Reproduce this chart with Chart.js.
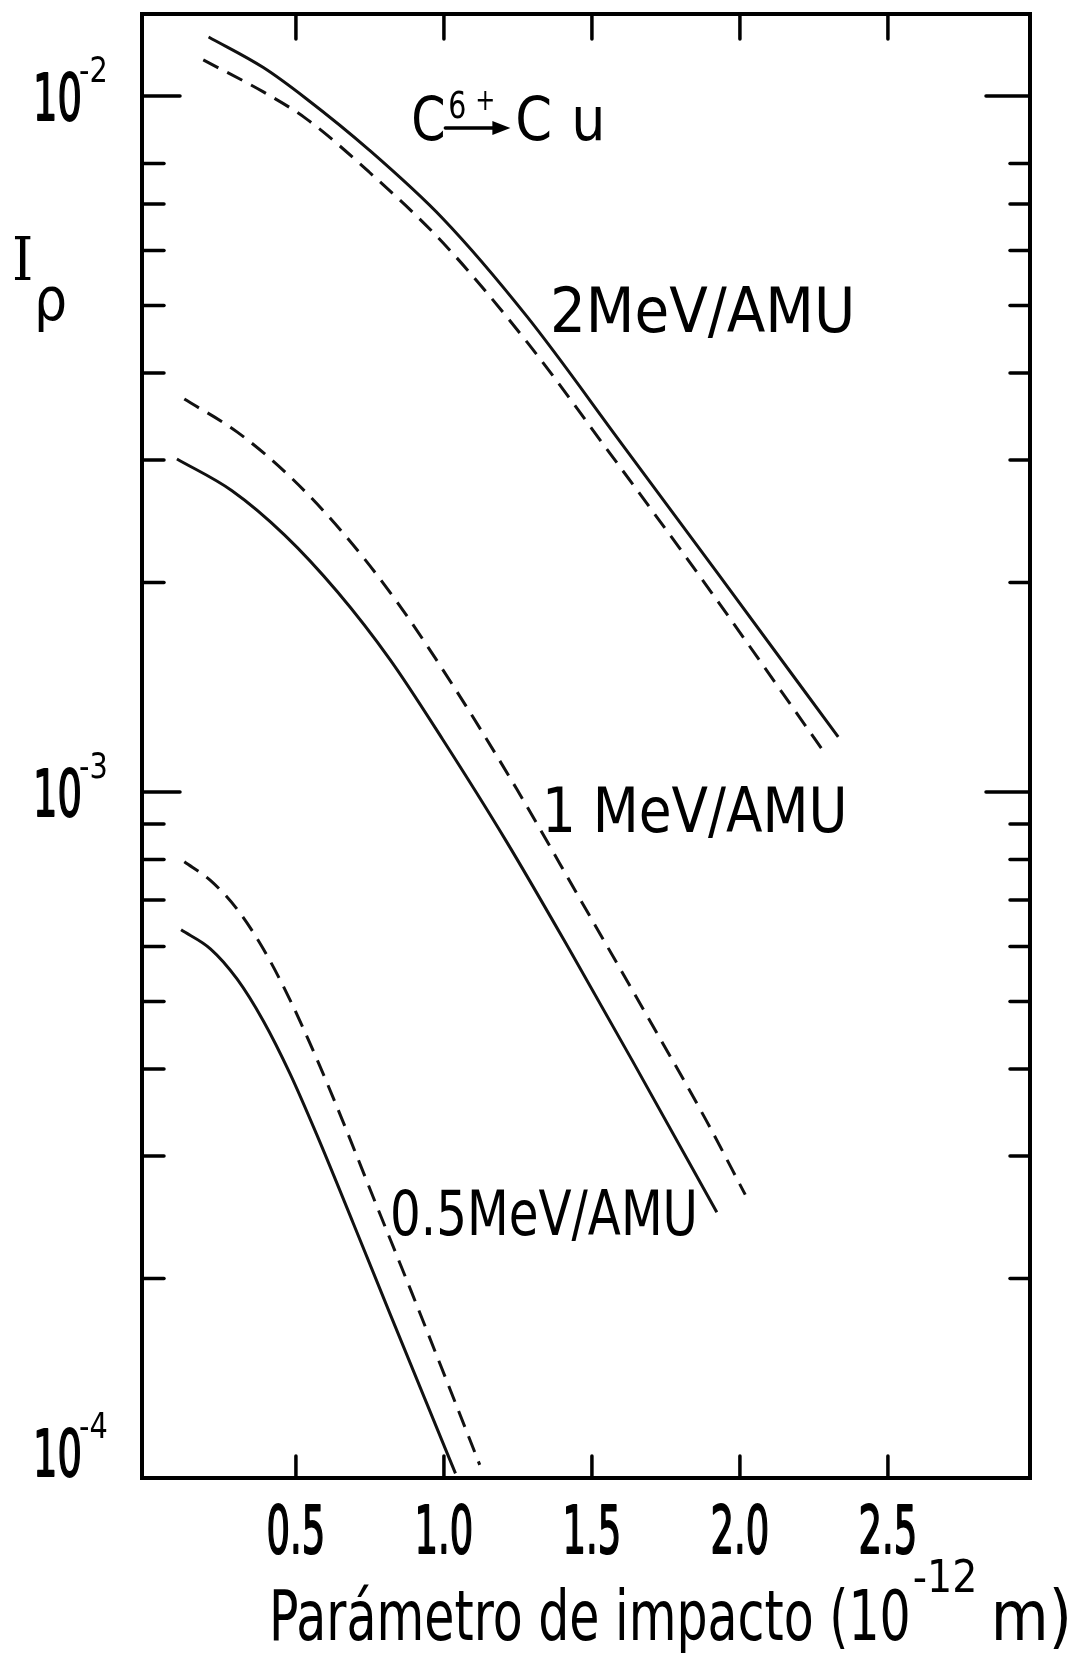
<!DOCTYPE html>
<html>
<head>
<meta charset="utf-8">
<script src="https://cdn.jsdelivr.net/npm/chart.js@4.4.1/dist/chart.umd.min.js"></script>
<style>
  html, body { margin: 0; padding: 0; background: #fff; }
  #wrap { width: 1086px; height: 1653px; }
</style>
</head>
<body>
<div id="wrap"><canvas id="chart"></canvas></div>
<script>
// Parâmetro de impacto (10^-12 m) e I_rho para C6+ -> Cu
const x2Solid = [0.205, 0.39, 0.533, 0.747, 0.996, 1.281, 1.602, 1.922, 2.332];
const y2Solid = [0.01216, 0.01099, 0.00993, 0.00837, 0.00667, 0.00482, 0.00316, 0.00207, 0.0012];
const x2Dash = [0.187, 0.39, 0.533, 0.747, 0.996, 1.281, 1.548, 1.869, 2.279];
const y2Dash = [0.01127, 0.01014, 0.00929, 0.00778, 0.00616, 0.00443, 0.00312, 0.00203, 0.00115];

const x1Solid = [0.098, 0.284, 0.462, 0.64, 0.818, 0.996, 1.21, 1.424, 1.637, 1.922];
const y1Solid = [0.00301, 0.00271, 0.00234, 0.00194, 0.00155, 0.00119, 0.000851, 0.000594, 0.000411, 0.000249];
const x1Dash = [0.123, 0.302, 0.48, 0.658, 0.836, 1.032, 1.246, 1.459, 1.673, 1.887, 2.018];
const y1Dash = [0.00367, 0.00329, 0.00284, 0.00236, 0.00189, 0.00142, 0.00101, 0.000703, 0.000488, 0.000337, 0.000264];

const x05Solid = [0.112, 0.212, 0.301, 0.39, 0.48, 0.569, 0.694, 0.818, 0.943, 1.039];
const y05Solid = [0.000634, 0.000595, 0.000539, 0.000469, 0.000394, 0.000323, 0.00024, 0.000178, 0.000132, 0.000105];
const x05Dash = [0.123, 0.212, 0.301, 0.39, 0.48, 0.569, 0.658, 0.764, 0.889, 1.014, 1.121];
const y05Dash = [0.000794, 0.000746, 0.000679, 0.000595, 0.000503, 0.000415, 0.000337, 0.00026, 0.000192, 0.000141, 0.000108];

// eixos
const xTicks = [0.5, 1.0, 1.5, 2.0, 2.5];
const xTickLabels = ['0.5', '1.0', '1.5', '2.0', '2.5'];
const yMajor = [1e-2, 1e-3, 1e-4];
const yMajorExp = ['-2', '-3', '-4'];
const yMinor = [8e-3, 7e-3, 6e-3, 5e-3, 4e-3, 3e-3, 2e-3,
                9e-4, 8e-4, 7e-4, 6e-4, 5e-4, 4e-4, 3e-4, 2e-4];

const FONTE = '"DejaVu Sans", sans-serif';

function pts(xs, ys) {
  return xs.map((v, i) => ({ x: v, y: ys[i] }));
}

function curva(xs, ys, tracejada) {
  return {
    data: pts(xs, ys),
    showLine: true,
    borderColor: '#111',
    borderWidth: 3,
    borderDash: tracejada ? [17, 10] : [],
    pointRadius: 0,
    fill: false,
    cubicInterpolationMode: 'monotone'
  };
}

// escreve texto com escala horizontal (letra estreita); grosso > 0 engrossa o traço
function texto(ctx, str, px, py, size, sx, align, family, grosso) {
  ctx.save();
  ctx.font = size + 'px ' + (family || FONTE);
  ctx.textAlign = align || 'left';
  ctx.textBaseline = 'alphabetic';
  ctx.translate(px, py);
  ctx.scale(sx, 1);
  ctx.fillText(str, 0, 0);
  if (grosso) {
    ctx.lineWidth = grosso;
    ctx.lineJoin = 'round';
    ctx.strokeText(str, 0, 0);
  }
  const w = ctx.measureText(str).width * sx;
  ctx.restore();
  return w;
}

function linha(ctx, x1, y1, x2, y2) {
  ctx.beginPath();
  ctx.moveTo(x1, y1);
  ctx.lineTo(x2, y2);
  ctx.stroke();
}

// moldura, marcas para dentro, rótulos e anotações
const moldura = {
  id: 'moldura',
  afterDraw(chart) {
    const { ctx, chartArea: a, scales: { x, y } } = chart;
    ctx.save();
    ctx.strokeStyle = '#000';
    ctx.fillStyle = '#000';
    ctx.lineCap = 'round';

    ctx.lineWidth = 4;
    ctx.strokeRect(a.left, a.top, a.right - a.left, a.bottom - a.top);

    ctx.lineWidth = 3.5;
    xTicks.forEach(v => {
      const px = x.getPixelForValue(v);
      linha(ctx, px, a.top, px, a.top + 25);
      linha(ctx, px, a.bottom, px, a.bottom - 22);
    });
    yMajor.forEach(v => {
      const py = y.getPixelForValue(v);
      if (py > a.bottom) return;
      linha(ctx, a.left, py, a.left + 38, py);
      linha(ctx, a.right, py, a.right - 44, py);
    });
    yMinor.forEach(v => {
      const py = y.getPixelForValue(v);
      linha(ctx, a.left, py, a.left + 22, py);
      linha(ctx, a.right, py, a.right - 20, py);
    });

    // rótulos do eixo x
    xTicks.forEach((v, i) => {
      texto(ctx, xTickLabels[i], x.getPixelForValue(v), a.bottom + 75, 66, 0.56, 'center', FONTE, 2);
    });

    // rótulos do eixo y (10 com expoente)
    yMajor.forEach((v, i) => {
      const base = Math.min(y.getPixelForValue(v) + 24, a.bottom - 2);
      texto(ctx, '10', 33, base, 64, 0.6, 'left', FONTE, 2);
      texto(ctx, yMajorExp[i], 79, base - 38, 36, 0.8);
    });

    // título do eixo y
    texto(ctx, 'I', 12, 280, 60, 0.9, 'left', '"DejaVu Serif", serif');
    texto(ctx, 'ρ', 34, 320, 58, 0.9);

    // título do eixo x
    let px = 269;
    px += texto(ctx, 'Parámetro de impacto (10', px, 1640, 70, 0.7);
    texto(ctx, '-12', px + 2, 1592, 44, 0.9);
    texto(ctx, 'm)', px + 80, 1640, 70, 0.85);

    // C 6+ -> Cu
    const cx = x.getPixelForValue(0.89);
    const cy = y.getPixelForValue(0.00865);
    texto(ctx, 'C', cx, cy, 60, 0.82);
    texto(ctx, '6', cx + 37, cy - 22, 38, 0.75);
    texto(ctx, '+', cx + 64, cy - 30, 30, 0.8);
    ctx.lineWidth = 3.5;
    linha(ctx, cx + 34, cy - 12, cx + 86, cy - 12);
    ctx.beginPath();
    ctx.moveTo(cx + 99, cy - 12);
    ctx.lineTo(cx + 81, cy - 19);
    ctx.lineTo(cx + 81, cy - 5);
    ctx.closePath();
    ctx.fill();
    texto(ctx, 'C', cx + 104, cy, 60, 0.88);
    texto(ctx, 'u', cx + 160, cy, 60, 0.9);

    // energias
    texto(ctx, '2MeV/AMU', x.getPixelForValue(1.358), y.getPixelForValue(0.00458), 62, 0.91);
    texto(ctx, '1 MeV/AMU', x.getPixelForValue(1.331), y.getPixelForValue(0.000876), 62, 0.86);
    texto(ctx, '0.5MeV/AMU', x.getPixelForValue(0.818), y.getPixelForValue(0.000231), 62, 0.78);

    ctx.restore();
  }
};

const ctx = document.getElementById('chart').getContext('2d');
const chart = new Chart(ctx, {
  type: 'scatter',
  data: {
    datasets: [
      curva(x2Solid, y2Solid, false),
      curva(x2Dash, y2Dash, true),
      curva(x1Solid, y1Solid, false),
      curva(x1Dash, y1Dash, true),
      curva(x05Solid, y05Solid, false),
      curva(x05Dash, y05Dash, true)
    ]
  },
  options: {
    responsive: true,
    maintainAspectRatio: false,
    animation: false,
    layout: { padding: { left: 142, right: 56, top: 14, bottom: 175 } },
    plugins: { legend: { display: false }, tooltip: { enabled: false } },
    scales: {
      x: { type: 'linear', min: -0.02, max: 2.98, display: false },
      y: { type: 'logarithmic', min: 1.034e-4, max: 1.312e-2, display: false }
    }
  },
  plugins: [moldura]
});
</script>
</body>
</html>
